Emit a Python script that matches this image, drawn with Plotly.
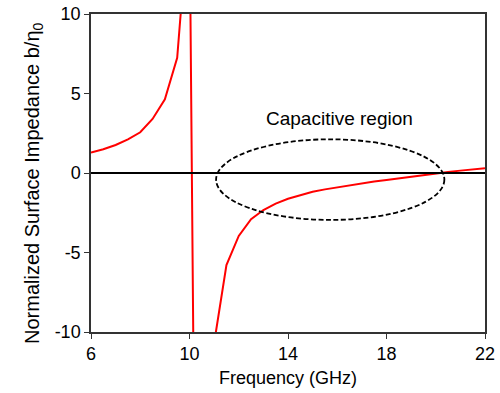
import plotly.graph_objects as go

freq = [6, 6.5, 7, 7.5, 8, 8.5, 9, 9.5, 10, 10.5, 11, 11.5, 12, 12.5, 13, 13.5,
        14, 14.5, 15, 15.5, 16, 16.5, 17, 17.5, 18, 18.5, 19, 19.5, 20, 20.5,
        21, 21.5, 22]
impedance = [1.28, 1.49, 1.76, 2.12, 2.56, 3.4, 4.63, 7.25, 17, -72, -10.7, -5.79,
             -3.96, -2.91, -2.33, -1.93, -1.62, -1.38, -1.18, -1.03, -0.9, -0.77,
             -0.65, -0.54, -0.44, -0.33, -0.23, -0.12, -0.02, 0.07, 0.15, 0.23, 0.3]
x_ticks = [6, 10, 14, 18, 22]
y_ticks = [10, 5, 0, -5, -10]
y_tick_text = ["10", "5", "0", "-5", "-10"]
annotation_text = "Capacitive region"
y_title = "Normalized Surface Impedance b/η<sub>0</sub>"
x_title = "Frequency (GHz)"

FONT = "Liberation Sans, Arial, sans-serif"

fig = go.Figure()
fig.add_trace(go.Scatter(x=freq, y=impedance, mode="lines",
                         line=dict(color="#ff0000", width=2), showlegend=False))

# zero line
fig.add_shape(type="line", xref="paper", yref="y", x0=0, x1=1, y0=0, y1=0,
              line=dict(color="black", width=2))
# ellipse
fig.add_shape(type="circle", xref="x", yref="y", x0=11.08, x1=20.35, y0=-2.95, y1=2.12,
              line=dict(color="black", width=1.8, dash="5px,2.5px"))

fig.add_annotation(x=16.1, y=3.4, text=annotation_text, showarrow=False,
                   font=dict(family=FONT, size=19, color="black"))

# y-axis title as rotated annotation for exact placement
fig.add_annotation(xref="paper", yref="paper", x=-0.1447, y=0.4686,
                   xanchor="center", yanchor="middle", textangle=-90,
                   text=y_title, showarrow=False,
                   font=dict(family=FONT, size=20, color="black"))

fig.update_layout(
    width=500, height=393,
    margin=dict(l=91, r=15, t=14, b=61),
    paper_bgcolor="white", plot_bgcolor="white",
    font=dict(family=FONT, size=18, color="black"),
)
fig.update_xaxes(range=[6, 22], tickvals=x_ticks, ticks="outside", ticklen=5,
                 tickcolor="#333", linecolor="#333", linewidth=1.5, mirror=True,
                 showgrid=False, zeroline=False, automargin=False,
                 title=dict(text=x_title, font=dict(size=18), standoff=8),
                 tickfont=dict(size=18))
fig.update_yaxes(range=[-10, 10], tickvals=y_ticks, ticktext=y_tick_text,
                 ticks="outside", ticklen=5, tickcolor="#333", linecolor="#333",
                 linewidth=1.5, mirror=True, showgrid=False, zeroline=False,
                 automargin=False, tickfont=dict(size=18))

fig.write_html("out.html", config={"displayModeBar": False},
               post_script="document.body.style.margin='0';")
